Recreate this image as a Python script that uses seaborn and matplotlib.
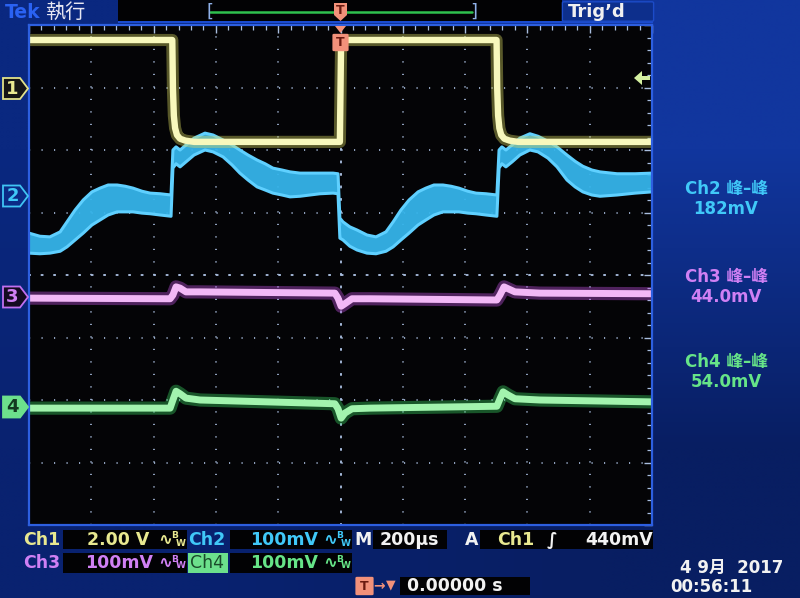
import numpy as np
import pandas as pd
import matplotlib
matplotlib.use("Agg")
import matplotlib.pyplot as plt
import seaborn as sns
from matplotlib.patches import Polygon, Rectangle, FancyBboxPatch
from matplotlib.lines import Line2D

# ---------------- data (time in µs, vertical in divisions) ----------------
ch1_t = [-1000, -540, -538, -535, -531, -525, -515, -498, -470, -2, 2,
         501, 503, 506, 510, 516, 526, 543, 570, 1000]
ch1_v = [3.76, 3.76, 3.00, 2.55, 2.35, 2.24, 2.18, 2.15, 2.13, 2.13, 3.76,
         3.76, 3.00, 2.55, 2.35, 2.24, 2.18, 2.15, 2.13, 2.13]

ch2_t = [-1000, -965, -933, -900, -878, -852, -826, -798, -772, -746, -717, -691,
         -666, -637, -611, -579, -544, -538, -528, -515, -496, -470, -435, -409,
         -377, -348, -323, -297, -268, -242, -217, -188, -162, -130, -98, -66,
         -24, -8, -2, 8, 30, 53, 85, 114, 146, 169, 194, 220, 249, 274, 300, 329,
         355, 380, 409, 435, 467, 502, 509, 518, 531, 551, 576, 608, 634, 666,
         695, 727, 753, 778, 807, 833, 888, 946, 1000]
ch2_hi = [0.67, 0.62, 0.61, 0.69, 0.85, 1.04, 1.20, 1.33, 1.39, 1.44, 1.44, 1.42,
          1.39, 1.34, 1.31, 1.30, 1.28, 2.00, 2.05, 2.00, 2.08, 2.19, 2.27, 2.24,
          2.16, 2.08, 2.00, 1.92, 1.84, 1.78, 1.71, 1.68, 1.65, 1.63, 1.63, 1.63,
          1.63, 1.62, 0.91, 0.85, 0.77, 0.72, 0.64, 0.61, 0.69, 0.85, 1.04, 1.20,
          1.33, 1.39, 1.44, 1.44, 1.42, 1.39, 1.34, 1.31, 1.30, 1.28, 2.00, 2.05,
          2.00, 2.08, 2.19, 2.26, 2.22, 2.14, 2.05, 1.92, 1.82, 1.74, 1.68, 1.65,
          1.62, 1.62, 1.63]
ch2_lo = [0.35, 0.34, 0.35, 0.38, 0.45, 0.56, 0.67, 0.80, 0.88, 0.96, 1.01, 1.01,
          1.01, 0.99, 0.98, 0.96, 0.94, 1.71, 1.78, 1.73, 1.81, 1.92, 2.00, 1.97,
          1.89, 1.76, 1.63, 1.52, 1.41, 1.36, 1.31, 1.28, 1.25, 1.26, 1.28, 1.30,
          1.31, 1.30, 0.59, 0.56, 0.46, 0.40, 0.35, 0.34, 0.38, 0.45, 0.56, 0.67,
          0.80, 0.88, 0.96, 1.01, 1.01, 1.01, 0.99, 0.98, 0.96, 0.94, 1.71, 1.78,
          1.73, 1.81, 1.92, 2.00, 1.97, 1.87, 1.73, 1.52, 1.41, 1.33, 1.28, 1.26,
          1.28, 1.31, 1.33]

ch3_t = [-1000, -547, -538, -528, -515, -496, -451, -18, -8, 2, 14, 37, 95,
         502, 512, 525, 538, 560, 640, 1000]
ch3_v = [-0.37, -0.38, -0.32, -0.19, -0.21, -0.27, -0.27, -0.29, -0.37, -0.50,
         -0.46, -0.38, -0.38, -0.40, -0.32, -0.19, -0.22, -0.27, -0.29, -0.30]

ch4_t = [-1000, -547, -538, -528, -515, -496, -451, -18, -8, 2, 14, 37, 95,
         502, 512, 522, 538, 560, 640, 1000]
ch4_v = [-2.13, -2.13, -2.00, -1.86, -1.90, -1.97, -2.00, -2.06, -2.14, -2.29,
         -2.21, -2.14, -2.13, -2.10, -1.98, -1.87, -1.92, -1.98, -2.00, -2.03]

readouts = [("Ch2 峰–峰", "182mV"), ("Ch3 峰–峰", "44.0mV"), ("Ch4 峰–峰", "54.0mV")]

# ---------------- style ----------------
sns.set_style("dark")
plt.rcParams["font.family"] = ["DejaVu Sans", "Noto Sans CJK TC"]

W, H = 800, 598
fig = plt.figure(figsize=(8, 5.98), dpi=100)
fig.patch.set_facecolor("#0b2a86")


def fx(x):
    return x / W


def fy(y):
    return 1 - y / H


def ftext(x, y, s, color, size=12, weight="bold", ha="left", **kw):
    fig.text(fx(x), fy(y), s, color=color, fontsize=size, fontweight=weight,
             ha=ha, va="center", **kw)


def frect(x0, y0, x1, y1, color, z=1, ec="none", lw=0):
    fig.add_artist(Rectangle((fx(x0), fy(y1)), (x1 - x0) / W, (y1 - y0) / H,
                             transform=fig.transFigure, facecolor=color,
                             edgecolor=ec, lw=lw, zorder=z))


def fpoly(pts, face, edge="none", lw=0, z=1):
    fig.add_artist(Polygon([(fx(a), fy(b)) for a, b in pts], closed=True,
                           transform=fig.transFigure, facecolor=face,
                           edgecolor=edge, lw=lw, zorder=z))


# background gradient
bgax = fig.add_axes([0, 0, 1, 1], zorder=-5)
img = np.array([[[10, 40, 128], [17, 54, 158]],
                [[9, 34, 112], [8, 30, 98]]]) / 255.0
bgax.imshow(img, extent=[0, 1, 0, 1], interpolation="bilinear", aspect="auto")
bgax.axis("off")

pos = [fx(29), fy(525), 623 / W, 500 / H]
GRID = "#a9bedf"
DOTS = (0, (0.7, 6.8))

# black screen with centre cross
ax0 = fig.add_axes(pos, zorder=0)
ax0.set_facecolor("#040406")
ax0.set_xlim(-1000, 1000)
ax0.set_ylim(-4, 4)
for s in ["right", "top"]:
    ax0.spines[s].set_visible(False)
for s in ["left", "bottom"]:
    ax0.spines[s].set_position(("data", 0))
    ax0.spines[s].set_color(GRID)
    ax0.spines[s].set_linewidth(1.2)
    ax0.spines[s].set_linestyle(DOTS)
ax0.set_xticks(np.arange(-1000, 1001, 200))
ax0.set_xticks(np.arange(-1000, 1001, 40), minor=True)
ax0.set_yticks(np.arange(-4, 4.01, 1))
ax0.set_yticks(np.arange(-4, 4.01, 0.2), minor=True)
ax0.tick_params(which="both", direction="inout", color=GRID,
                labelleft=False, labelbottom=False)
ax0.tick_params(which="major", length=9, width=1)
ax0.tick_params(which="minor", length=6, width=0.9)
ax0.grid(False)

# graticule + traces
ax = fig.add_axes(pos, zorder=1)
ax.set_facecolor("none")
ax.set_xlim(-1000, 1000)
ax.set_ylim(-4, 4)
ax.set_xticks(np.arange(-1000, 1001, 200))
ax.set_xticks(np.arange(-1000, 1001, 40), minor=True)
ax.set_yticks(np.arange(-4, 4.01, 1))
ax.set_yticks(np.arange(-4, 4.01, 0.2), minor=True)
ax.tick_params(which="both", direction="in", top=True, right=True, color=GRID,
               labelleft=False, labelbottom=False)
ax.tick_params(which="major", length=6, width=1)
ax.tick_params(which="minor", length=3.5, width=0.9)
ax.set_axisbelow(True)
ax.grid(which="major", color=GRID, linestyle=DOTS, linewidth=1.2)
ax.grid(which="minor", visible=False)
for s in ax.spines.values():
    s.set_color("#2d5fe0")
    s.set_linewidth(1.6)


def trace(t, v, core, glow, lw):
    df = pd.DataFrame({"t": t, "v": v})
    sns.lineplot(data=df, x="t", y="v", ax=ax, color=glow, lw=lw * 1.9,
                 alpha=0.4, estimator=None, sort=False, legend=False)
    sns.lineplot(data=df, x="t", y="v", ax=ax, color=core, lw=lw,
                 estimator=None, sort=False, legend=False)


# Ch2 band
ax.fill_between(ch2_t, ch2_lo, ch2_hi, color="#35b4ea", lw=0, alpha=0.95, zorder=2)
df_hi = pd.DataFrame({"t": ch2_t, "v": ch2_hi})
df_lo = pd.DataFrame({"t": ch2_t, "v": ch2_lo})
for d in (df_hi, df_lo):
    sns.lineplot(data=d, x="t", y="v", ax=ax, color="#5fd0ff", lw=2.2,
                 estimator=None, sort=False, legend=False)

trace(ch3_t, ch3_v, "#f2b8f6", "#c050e0", 5.0)
trace(ch4_t, ch4_v, "#a2f4ae", "#38d060", 5.0)
trace(ch1_t, ch1_v, "#f8f8bc", "#d8d860", 4.6)
ax.set_xlabel("")
ax.set_ylabel("")

# ---------------- top bar ----------------
frect(118, 0, 562, 21, "#020204")
frect(118, 21, 653, 23, "#1a4bd0")
ftext(5, 12, "Tek", "#2a62f2", 13.5)
ftext(45, 12, "執行", "#e6e6f2", 14.5, weight="normal")
ftext(206, 12, "[", "#8fb0e8", 13, weight="normal")
ftext(470, 12, "]", "#8fb0e8", 13, weight="normal")
fig.add_artist(Line2D([fx(210), fx(472)], [fy(12), fy(12)], color="#2fc04e",
                      lw=1.8, transform=fig.transFigure, zorder=2))
fpoly([(334, 3), (347, 3), (347, 15), (340.5, 21), (334, 15)], "#f2917a", z=3)
ftext(340.5, 10, "T", "#6a1a10", 9, ha="center")
fig.add_artist(FancyBboxPatch((fx(564), fy(20)), 88 / W, 17 / H,
                              boxstyle="round,pad=0.002", transform=fig.transFigure,
                              facecolor="#0d2f8c", edgecolor="#1c4bc8", lw=1, zorder=1))
ftext(568, 12, "Trig’d", "#f0f0f0", 13)

# trigger position marker in graticule
fpoly([(335, 26), (346, 26), (340.5, 33)], "#f2917a", z=3)
fig.add_artist(FancyBboxPatch((fx(334), fy(50)), 13 / W, 15 / H,
                              boxstyle="round,pad=0.002", transform=fig.transFigure,
                              facecolor="#f2917a", edgecolor="none", zorder=3))
ftext(340.5, 42.5, "T", "#6a1a10", 9, ha="center")

# trigger level arrow on right
fpoly([(634, 78), (642, 71), (642, 76), (650, 76), (650, 80), (642, 80), (642, 85)],
      "#d4f0a0", z=3)

# channel markers on left
def marker(yc, label, edge, face, tcol):
    fpoly([(3, yc - 10.5), (20, yc - 10.5), (28, yc), (20, yc + 10.5), (3, yc + 10.5)],
          face, edge=edge, lw=1.3, z=3)
    ftext(12.5, yc, label, tcol, 13, ha="center")


marker(88.5, "1", "#e2e28a", "#151515", "#e8e890")
marker(196, "2", "#40c4f4", "#0b2a86", "#40c8f8")
marker(297, "3", "#c070f0", "#140a20", "#d080f4")
marker(407, "4", "#6ce08c", "#6ce08c", "#123a20")

# right readouts
cols = ["#40c8f8", "#d080f4", "#66e488"]
ys = [189, 277, 362]
for (a, b), c, y in zip(readouts, cols, ys):
    ftext(726, y, a, c, 12, ha="center")
    ftext(726, y + 20, b, c, 12, ha="center")

# ---------------- bottom status ----------------
YEL, CYA, MAG, GRN, WHT = "#e8e890", "#40c8f8", "#d080f4", "#66e488", "#f2f2f2"
frect(63, 530, 187, 549, "#020204")
frect(230, 530, 352, 549, "#020204")
frect(373, 530, 447, 549, "#020204")
frect(480, 530, 653, 549, "#020204")
frect(63, 553, 187, 573, "#020204")
frect(230, 553, 352, 573, "#020204")
frect(188, 553, 228, 573, "#6ce08c")
frect(400, 577, 530, 595, "#020204")


def bw(x, y, c):
    ftext(x, y, "∿", c, 12)
    ftext(x + 13, y - 4, "B", c, 6.5)
    ftext(x + 18, y + 3, "W", c, 6.5)


ftext(23, 540, "Ch1", YEL, 12.5)
ftext(87, 540, "2.00 V", YEL, 12.5)
bw(158, 540, YEL)
ftext(188, 540, "Ch2", CYA, 12.5)
ftext(250, 540, "100mV", CYA, 12.5)
bw(323, 540, CYA)
ftext(354, 540, "M", WHT, 12.5)
ftext(380, 540, "200µs", WHT, 12.5)
ftext(465, 540, "A", WHT, 12.5)
ftext(497, 540, "Ch1", YEL, 12.5)
ftext(547, 540, "∫", WHT, 12.5)
ftext(585, 540, "440mV", WHT, 12.5)

ftext(23, 563, "Ch3", MAG, 12.5)
ftext(85, 563, "100mV", MAG, 12.5)
bw(158, 563, MAG)
ftext(190, 563, "Ch4", "#1a4a2a", 12.5, weight="normal")
ftext(250, 563, "100mV", GRN, 12.5)
bw(323, 563, GRN)

fig.add_artist(FancyBboxPatch((fx(357), fy(594)), 15 / W, 16 / H,
                              boxstyle="round,pad=0.002", transform=fig.transFigure,
                              facecolor="#f2917a", edgecolor="none", zorder=3))
ftext(364.5, 586, "T", "#6a1a10", 9, ha="center")
ftext(373, 586, "→", "#f2917a", 10)
ftext(386, 585, "▼", "#f2917a", 9)
ftext(407, 586, "0.00000 s", WHT, 12.5)
ftext(680, 568, "4 9月  2017", WHT, 12)
ftext(670, 587, "00:56:11", WHT, 12)

fig.savefig("out.png", dpi=100, facecolor=fig.get_facecolor())
